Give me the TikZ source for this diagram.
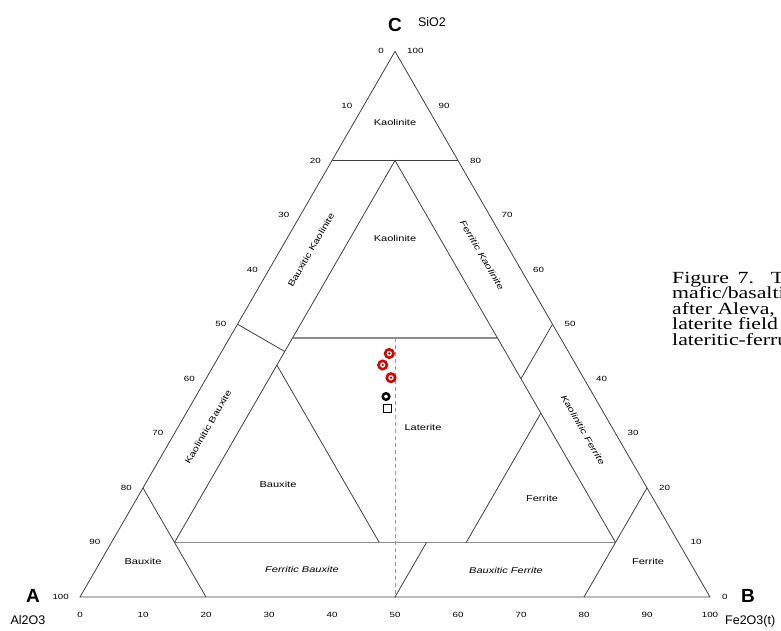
\documentclass[tikz,border=0pt]{standalone}
\usepackage{fontspec}
\setmainfont{Liberation Serif}
\newfontfamily\labfont[FakeStretch=1.3]{Liberation Sans}
\newfontfamily\bigsans{Liberation Sans}
\newfontfamily\capfont[FakeStretch=1.28]{Liberation Serif}
\begin{document}
\begin{tikzpicture}[x=1pt,y=-1pt,
  ln/.style={draw=black!75,line width=0.8pt},
  gl/.style={draw=black!45,line width=1.6pt},
  dl/.style={draw=black!40,line width=1pt,dash pattern=on 4pt off 3pt},
  tick/.style={font=\labfont\fontsize{7.5}{8}\selectfont,inner sep=0pt},
  field/.style={font=\labfont\fontsize{8.5}{9}\selectfont,inner sep=0pt},
  ifield/.style={font=\labfont\itshape\fontsize{8.5}{9}\selectfont,inner sep=0pt},
  vtx/.style={font=\bigsans\bfseries\fontsize{19}{20}\selectfont,inner sep=0pt},
  oxd/.style={font=\bigsans\fontsize{12.5}{13}\selectfont,inner sep=0pt},
  capl/.style={font=\capfont\fontsize{17}{18}\selectfont,inner sep=0pt,anchor=base west},
  redm/.style={draw=red!85!black,line width=2.6pt,fill=white},
  blkm/.style={draw=black,line width=2.4pt,fill=white},
]
\useasboundingbox (0,0) rectangle (781,631);
% vertices
\coordinate (A) at (80,597);
\coordinate (B) at (710,597);
\coordinate (C) at (395,51.4);
% field boundary points (A=Al2O3, B=Fe2O3, C=SiO2)
\coordinate (s8L) at (barycentric cs:A=0.2,B=0,C=0.8);
\coordinate (s8R) at (barycentric cs:A=0,B=0.2,C=0.8);
\coordinate (ap)  at (barycentric cs:A=0.1,B=0.1,C=0.8);
\coordinate (f1b) at (barycentric cs:A=0.8,B=0.1,C=0.1);
\coordinate (a1b) at (barycentric cs:A=0.1,B=0.8,C=0.1);
\coordinate (a8t) at (barycentric cs:A=0.8,B=0,C=0.2);
\coordinate (a8b) at (barycentric cs:A=0.8,B=0.2,C=0);
\coordinate (f8t) at (barycentric cs:A=0,B=0.8,C=0.2);
\coordinate (f8b) at (barycentric cs:A=0.2,B=0.8,C=0);
\coordinate (latL) at (barycentric cs:A=0.425,B=0.1,C=0.475);
\coordinate (latR) at (barycentric cs:A=0.1,B=0.425,C=0.475);
\coordinate (dvL1) at (barycentric cs:A=0.5,B=0,C=0.5);
\coordinate (dvL2) at (barycentric cs:A=0.45,B=0.1,C=0.45);
\coordinate (dvR1) at (barycentric cs:A=0,B=0.5,C=0.5);
\coordinate (dvR2) at (barycentric cs:A=0.1,B=0.5,C=0.4);
\coordinate (bxT) at (barycentric cs:A=0.475,B=0.1,C=0.425);
\coordinate (bxB) at (barycentric cs:A=0.475,B=0.425,C=0.1);
\coordinate (feT) at (barycentric cs:A=0.1,B=0.563,C=0.337);
\coordinate (feB) at (barycentric cs:A=0.337,B=0.563,C=0.1);
\coordinate (btT) at (barycentric cs:A=0.4,B=0.5,C=0.1);
\coordinate (btB) at (barycentric cs:A=0.5,B=0.5,C=0);
\coordinate (dsT) at (barycentric cs:A=0.2625,B=0.2625,C=0.475);
% dashed line
\draw[dl] (dsT) -- (btB);
% lines
\draw[gl] (latL) -- (latR);
\draw[gl] (f1b) -- (a1b);
\draw[ln] (A) -- (B) -- (C) -- cycle;
\draw[ln] (s8L) -- (s8R);
\draw[ln] (f1b) -- (ap) -- (a1b);
\draw[ln] (a8t) -- (a8b);
\draw[ln] (f8t) -- (f8b);
\draw[ln] (dvL1) -- (dvL2);
\draw[ln] (dvR1) -- (dvR2);
\draw[ln] (bxT) -- (bxB);
\draw[ln] (feT) -- (feB);
\draw[ln] (btT) -- (btB);
% field labels
\node[field] (lk1) at (395,122) {Kaolinite};
\node[field] (lk2) at (395,238) {Kaolinite};
\node[field,rotate=60] (lbk) at (311,250) {Bauxitic Kaolinite};
\node[ifield,rotate=-60] (lfk) at (482,255) {Ferritic Kaolinite};
\node[field,rotate=60] (lkb) at (208,427) {Kaolinitic Bauxite};
\node[ifield,rotate=-60] (lkf) at (583,430) {Kaolinitic Ferrite};
\node[field] (lbx) at (278,484) {Bauxite};
\node[field] (llt) at (423,427) {Laterite};
\node[field] (lfe) at (542,498) {Ferrite};
\node[field] (lbx2) at (143,561) {Bauxite};
\node[ifield] (lfb) at (302,569) {Ferritic Bauxite};
\node[ifield] (lbf) at (506,570) {Bauxitic Ferrite};
\node[field] (lfe2) at (648,561) {Ferrite};
% left edge ticks
\foreach \k/\t in {0/0,1/10,2/20,3/30,4/40,5/50,6/60,7/70,8/80,9/90,10/100}{
  \node[tick,anchor=east] (tl\k) at ([xshift=-11pt]barycentric cs:A=\k,B=0,C=10-\k) {\t};
}
% right edge ticks
\foreach \k/\t in {0/100,1/90,2/80,3/70,4/60,5/50,6/40,7/30,8/20,9/10,10/0}{
  \node[tick,anchor=west] (tr\k) at ([xshift=12pt]barycentric cs:A=0,B=\k,C=10-\k) {\t};
}
% bottom ticks
\foreach \k/\t in {0/0,1/10,2/20,3/30,4/40,5/50,6/60,7/70,8/80,9/90,10/100}{
  \node[tick] (tb\k) at (80+63*\k,615) {\t};
}
% vertex labels
\node[vtx] (lC) at (395,25) {C};
\node[oxd] (lSi) at (432,22) {SiO2};
\node[vtx] (lA) at (33,596) {A};
\node[oxd] (lAl) at (28,620) {Al2O3};
\node[vtx] (lB) at (748,596) {B};
\begin{scope}
\clip (0,0) rectangle (781,631);
\node[oxd,anchor=west] (lFe) at (725,621) {Fe2O3(t)};
\end{scope}
% samples
\node[draw=black,line width=0.9pt,fill=white,minimum size=8pt,inner sep=0pt] (sq) at (387,408.5) {};
\draw[blkm] (386,396.5) circle (3.3pt);
\draw[redm] (389.3,353.5) circle (4.2pt);
\draw[redm] (382.7,365) circle (4.2pt);
\draw[redm] (391,377.7) circle (4.2pt);
\fill[red!45!black] (389.3,353.5) circle (1.2pt);
\fill[red!45!black] (382.7,365) circle (1.2pt);
\fill[red!45!black] (391,377.7) circle (1.2pt);
% caption (cut off at right edge)
\begin{scope}
\clip (600,250) rectangle (781,360);
\node[capl] (c1) at (672,283) {\makebox[112pt][s]{Figure 7. T}};
\node[capl] (c2) at (672,298.6) {mafic/basalti};
\node[capl] (c3) at (672,314.2) {after Aleva,};
\node[capl] (c4) at (672,329.8) {laterite field};
\node[capl] (c5) at (672,345.4) {lateritic-ferru};
\end{scope}
\end{tikzpicture}
\end{document}
